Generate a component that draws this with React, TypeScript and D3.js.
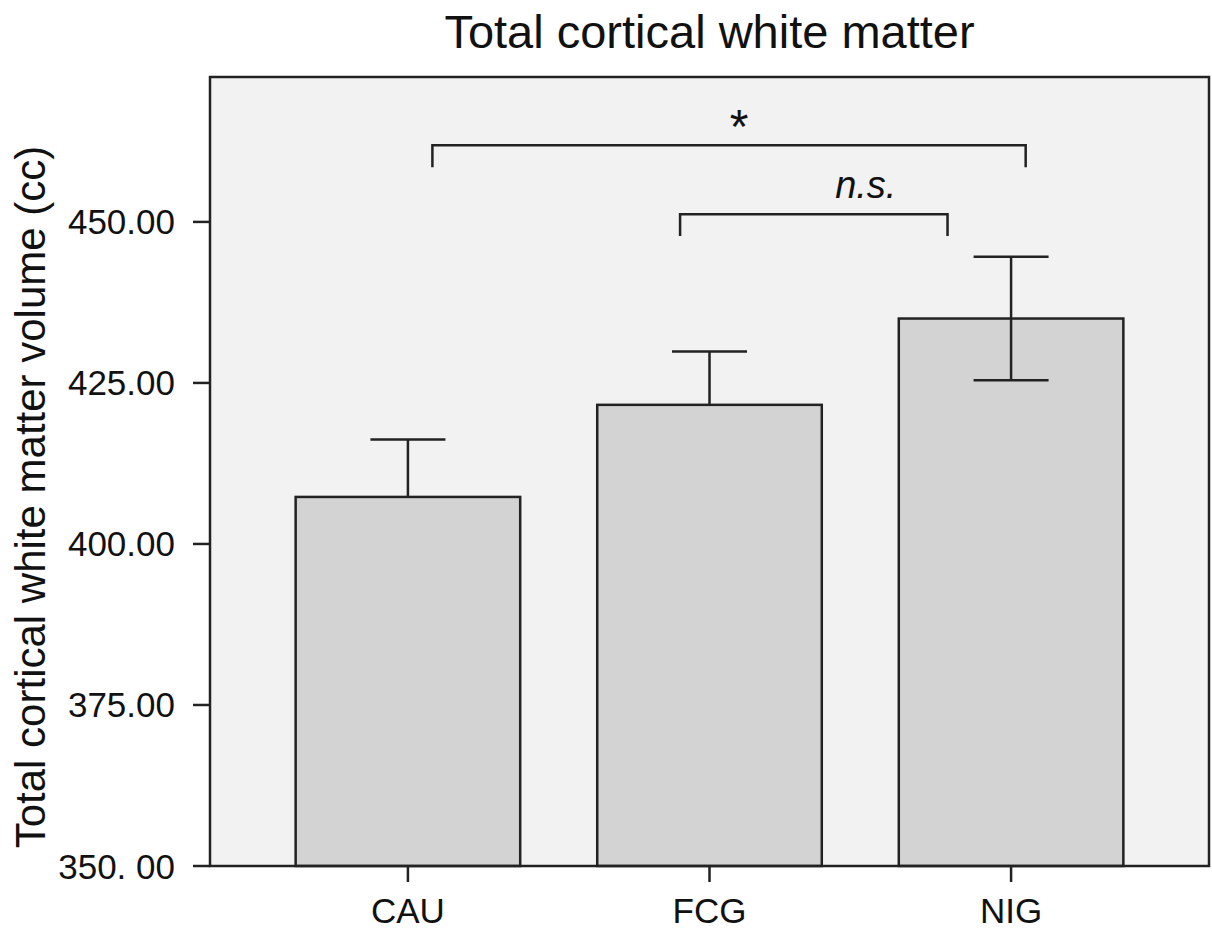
import React from "react";
import * as d3 from "d3";

const categories = ["CAU", "FCG", "NIG"];
const means = [407.3, 421.6, 435.0];
const stdErrors = [8.9, 8.3, 9.6];
const showLowerError = [false, false, true];
const yTicks = [350, 375, 400, 425, 450];
const yTickLabels = ["350. 00", "375.00", "400.00", "425.00", "450.00"];

// significance brackets: from category, to category, bracket level (value), label
const bracketFrom = ["CAU", "FCG"];
const bracketTo = ["NIG", "NIG"];
const bracketLevel = [461.9, 451.2];
const bracketLabels = ["*", "n.s."];
const bracketFromOffset = [0.109, -0.131];
const bracketToOffset = [0.065, -0.283];

const W = 1212;
const H = 929;
const M = { left: 210, right: 3, top: 77, bottom: 63 };

export default function App() {
  const x = d3
    .scaleBand<string>()
    .domain(categories)
    .range([M.left, W - M.right])
    .paddingInner(0.2554)
    .paddingOuter(0.284);
  const y = d3.scaleLinear().domain([350, 472.5]).range([H - M.bottom, M.top]);
  const bw = x.bandwidth();
  const cx = (c: string) => (x(c) as number) + bw / 2;
  const font = "'Liberation Sans', Arial, Helvetica, sans-serif";
  const stroke = "#222";
  const sw = 2.5;
  const capHalf = 37.5;
  const drop = 3.4;

  return (
    <svg
      width={W}
      height={H}
      style={{ position: "absolute", left: 0, top: 0 }}
      fontFamily={font}
    >
      <rect x={0} y={0} width={W} height={H} fill="#fff" />
      <rect
        x={M.left}
        y={M.top}
        width={W - M.left - M.right}
        height={H - M.top - M.bottom}
        fill="#f2f2f2"
      />
      {categories.map((c, i) => (
        <g key={c}>
          <rect
            x={x(c)}
            y={y(means[i])}
            width={bw}
            height={y(350) - y(means[i])}
            fill="#d3d3d3"
            stroke={stroke}
            strokeWidth={sw}
          />
          <line
            x1={cx(c)}
            x2={cx(c)}
            y1={y(showLowerError[i] ? means[i] - stdErrors[i] : means[i])}
            y2={y(means[i] + stdErrors[i])}
            stroke={stroke}
            strokeWidth={sw}
          />
          <line
            x1={cx(c) - capHalf}
            x2={cx(c) + capHalf}
            y1={y(means[i] + stdErrors[i])}
            y2={y(means[i] + stdErrors[i])}
            stroke={stroke}
            strokeWidth={sw}
          />
          {showLowerError[i] && (
            <line
              x1={cx(c) - capHalf}
              x2={cx(c) + capHalf}
              y1={y(means[i] - stdErrors[i])}
              y2={y(means[i] - stdErrors[i])}
              stroke={stroke}
              strokeWidth={sw}
            />
          )}
          <line
            x1={cx(c)}
            x2={cx(c)}
            y1={H - M.bottom}
            y2={H - M.bottom + 16}
            stroke={stroke}
            strokeWidth={sw}
          />
          <text
            x={cx(c)}
            y={923}
            textAnchor="middle"
            fontSize={35}
            fill="#111"
          >
            {c}
          </text>
        </g>
      ))}
      {bracketFrom.map((f, i) => {
        const x1 = cx(f) + bracketFromOffset[i] * bw;
        const x2 = cx(bracketTo[i]) + bracketToOffset[i] * bw;
        const yy = y(bracketLevel[i]);
        const yd = y(bracketLevel[i] - drop);
        const isStar = bracketLabels[i] === "*";
        return (
          <g key={i}>
            <path
              d={`M${x1},${yd}V${yy}H${x2}V${yd}`}
              fill="none"
              stroke={stroke}
              strokeWidth={sw}
            />
            <text
              x={isStar ? (x1 + x2) / 2 + 10 : (x1 + x2) / 2 + 52}
              y={isStar ? yy - 2 : yy - 16}
              textAnchor="middle"
              fontSize={isStar ? 48 : 38}
              fontStyle={isStar ? "normal" : "italic"}
              fill="#111"
            >
              {bracketLabels[i]}
            </text>
          </g>
        );
      })}
      {yTicks.map((t, i) => (
        <g key={t}>
          <line
            x1={M.left - 17}
            x2={M.left}
            y1={y(t)}
            y2={y(t)}
            stroke={stroke}
            strokeWidth={sw}
          />
          <text
            x={175}
            y={y(t) + 12.5}
            textAnchor="end"
            fontSize={35}
            fill="#111"
          >
            {yTickLabels[i]}
          </text>
        </g>
      ))}
      <rect
        x={M.left}
        y={M.top}
        width={W - M.left - M.right}
        height={H - M.top - M.bottom}
        fill="none"
        stroke={stroke}
        strokeWidth={sw}
      />
      <text
        x={(M.left + W - M.right) / 2}
        y={48}
        textAnchor="middle"
        fontSize={47}
        fill="#111"
      >
        Total cortical white matter
      </text>
      <text
        transform={`translate(45, 497) rotate(-90)`}
        textAnchor="middle"
        fontSize={42}
        fill="#111"
      >
        Total cortical white matter volume (cc)
      </text>
    </svg>
  );
}
